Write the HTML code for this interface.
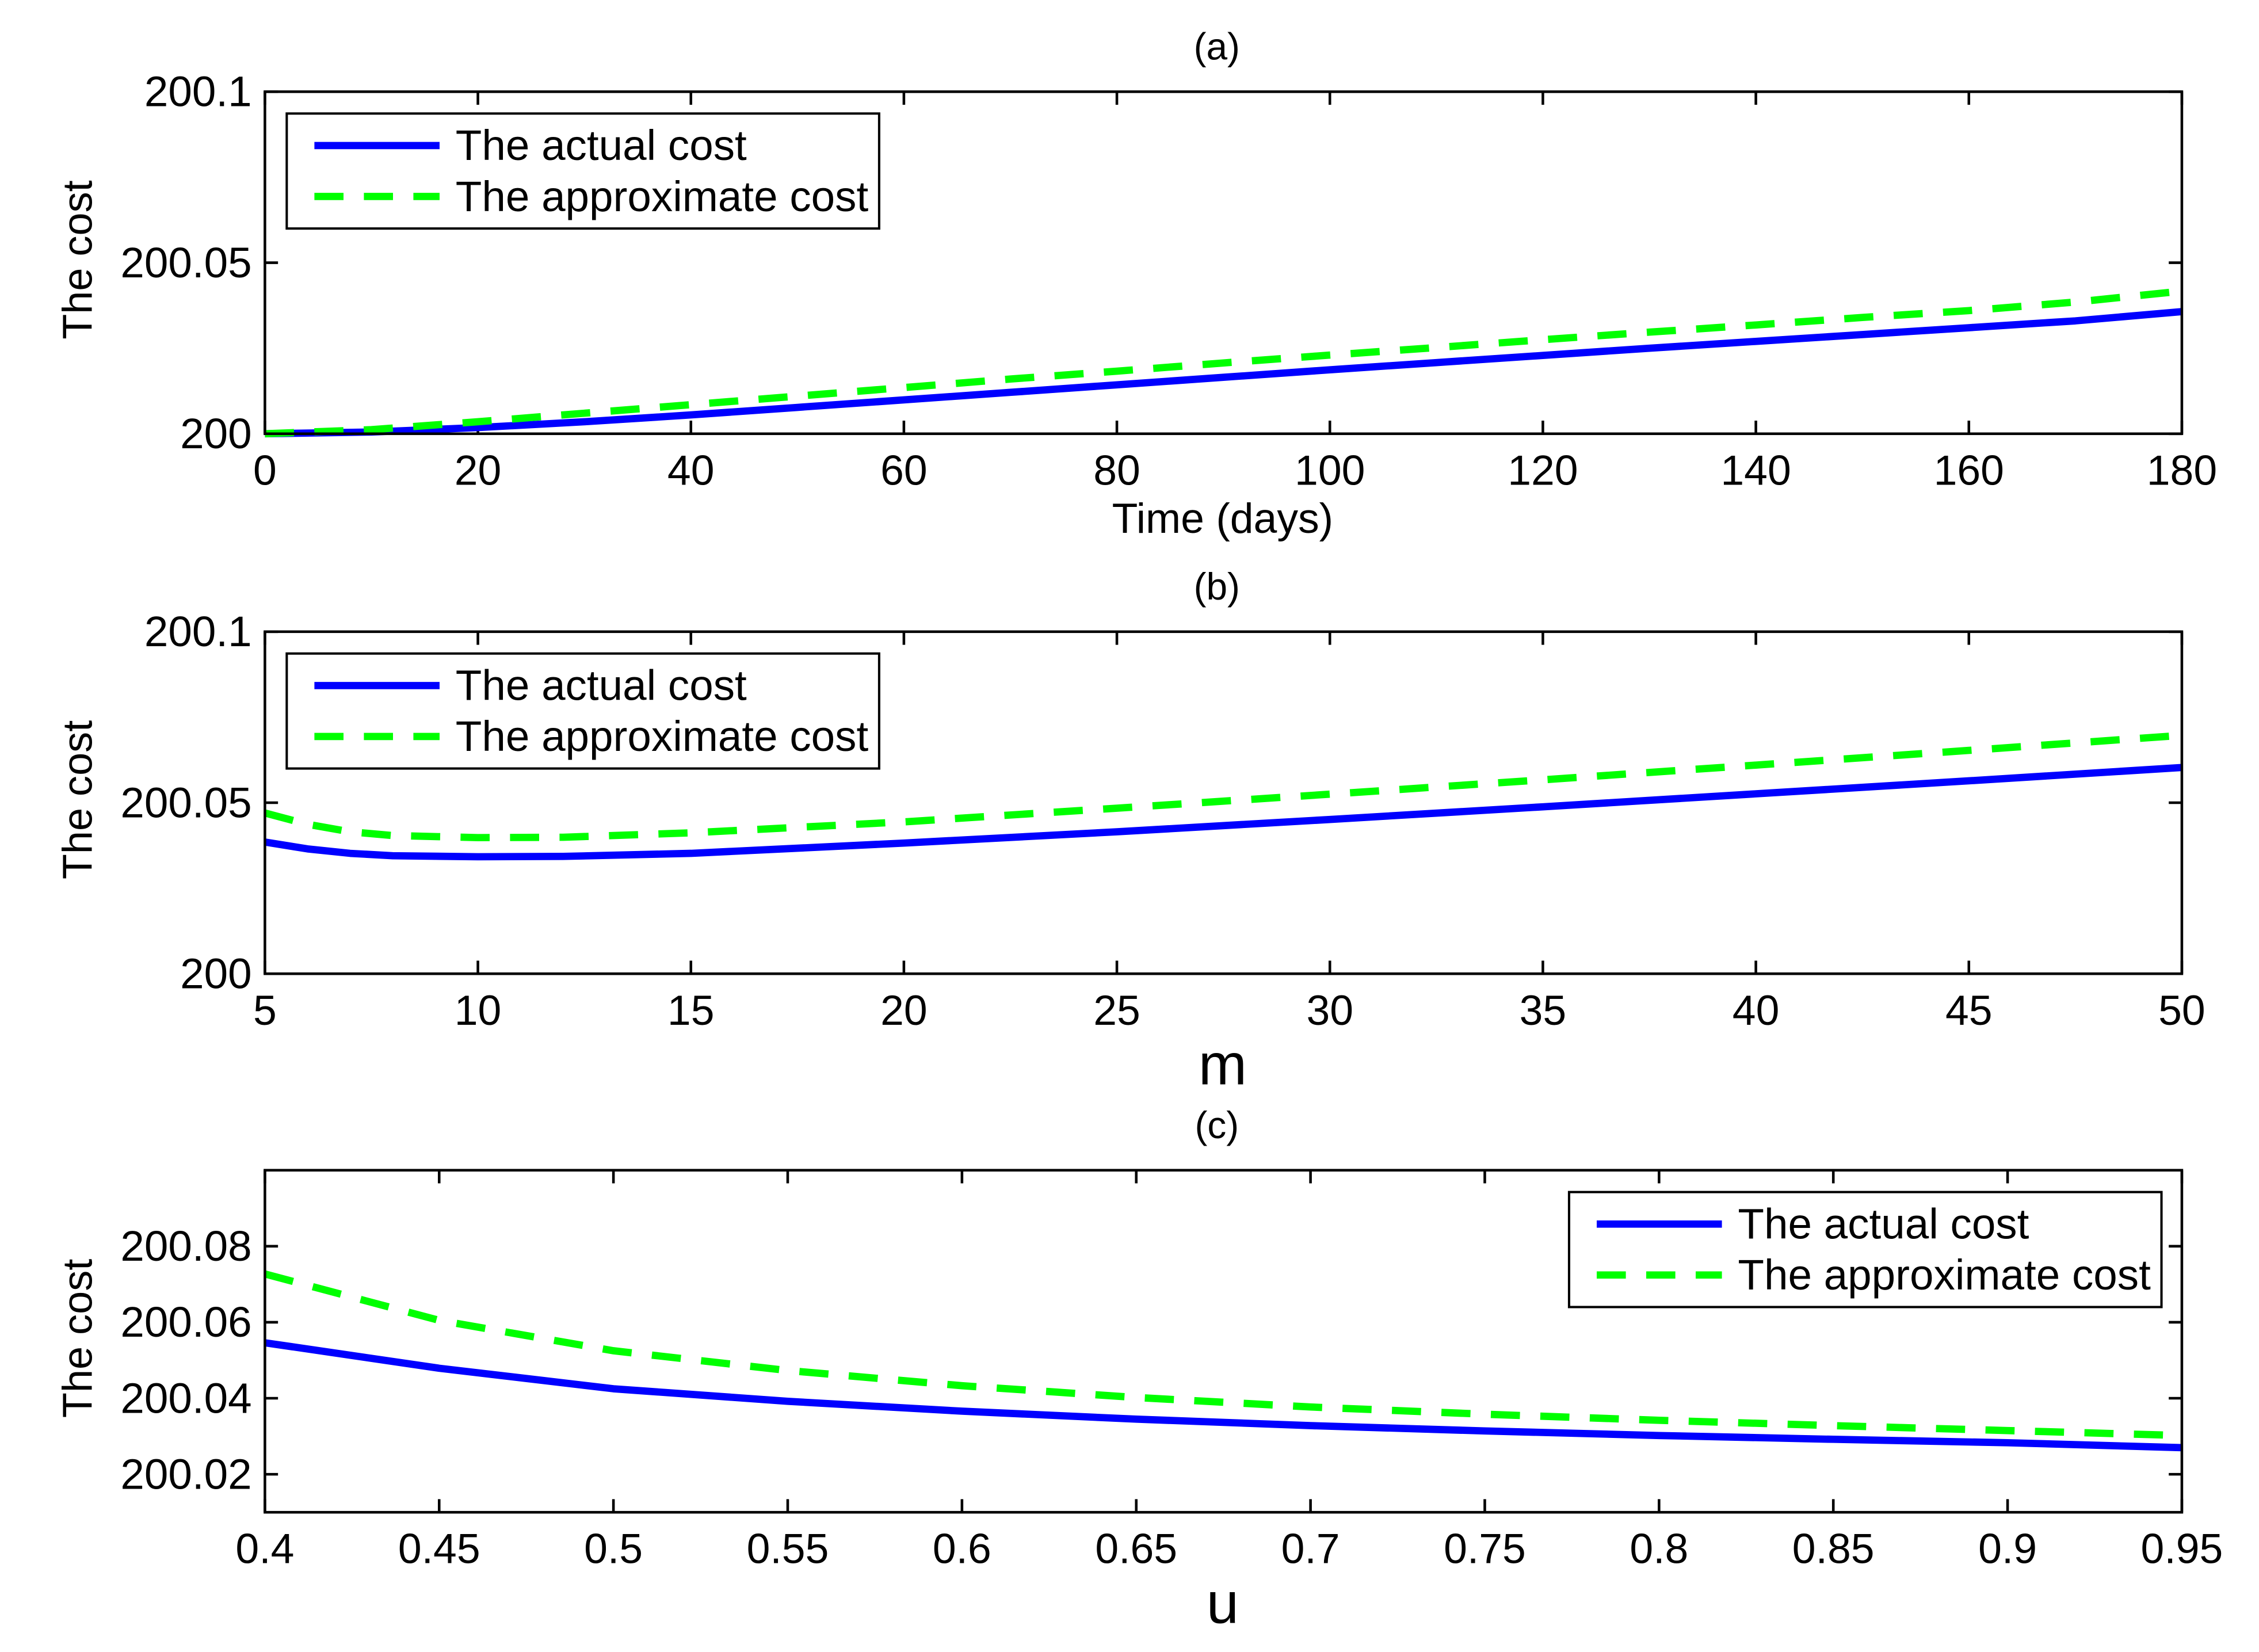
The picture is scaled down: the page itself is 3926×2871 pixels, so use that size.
<!DOCTYPE html>
<html><head><meta charset="utf-8"><style>
html,body{margin:0;padding:0;background:#fff;}
svg{display:block;}
text{font-family:"Liberation Sans",sans-serif;fill:#000;}
</style></head><body>
<svg id="fig" xmlns="http://www.w3.org/2000/svg" width="3926" height="2871" viewBox="0 0 1552 1135" preserveAspectRatio="none"></svg>
<script>
// Panel (a)
const timeDays = [0,10,20,30,40,50,60,70,80,90,100,110,120,130,140,150,160,170,180];
const actualA = [0,0.0005,0.0018,0.0035,0.0055,0.0077,0.0099,0.0121,0.0143,0.0165,0.0187,0.0208,0.0229,0.025,0.027,0.029,0.031,0.033,0.0357];
const approxA = [0,0.0012,0.0035,0.006,0.0085,0.011,0.0135,0.016,0.0183,0.0207,0.023,0.0252,0.0275,0.0297,0.0318,0.034,0.036,0.0385,0.0417];
const xTicksA = [0,20,40,60,80,100,120,140,160,180];
const yTicksA = [0,0.05,0.1];
const yLabelsA = ["200","200.05","200.1"];
// Panel (b)
const mVals = [5,6,7,8,10,12,15,20,25,30,35,40,45,50];
const actualB = [0.0385,0.0365,0.0352,0.0345,0.0342,0.0343,0.0352,0.0382,0.0415,0.0451,0.0488,0.0526,0.0564,0.0603];
const approxB = [0.047,0.0437,0.0415,0.0404,0.0398,0.0399,0.0412,0.0444,0.0484,0.0525,0.0567,0.061,0.0653,0.0697];
const xTicksB = [5,10,15,20,25,30,35,40,45,50];
const yTicksB = [0,0.05,0.1];
const yLabelsB = ["200","200.05","200.1"];
// Panel (c)
const uVals = [0.4,0.45,0.5,0.55,0.6,0.65,0.7,0.75,0.8,0.85,0.9,0.95];
const actualC = [0.0546,0.0479,0.0425,0.0392,0.0366,0.0345,0.0328,0.0314,0.0302,0.0292,0.0283,0.027];
const approxC = [0.0727,0.0605,0.0525,0.0473,0.0433,0.0402,0.0377,0.0358,0.0342,0.0328,0.0315,0.0302];
const xTicksC = [0.4,0.45,0.5,0.55,0.6,0.65,0.7,0.75,0.8,0.85,0.9,0.95];
const xLabelsC = ["0.4","0.45","0.5","0.55","0.6","0.65","0.7","0.75","0.8","0.85","0.9","0.95"];
const yTicksC = [0.02,0.04,0.06,0.08,0.1];
const yLabelsC = ["200.02","200.04","200.06","200.08",""];

const NS="http://www.w3.org/2000/svg";
const svg=document.getElementById('fig');
function mk(tag,attrs,parent){const e=document.createElementNS(NS,tag);for(const k in attrs)e.setAttribute(k,attrs[k]);(parent||svg).appendChild(e);return e;}

function panel(o){
  const g=mk('g',{});
  
  
  const L=182,R=1499,T=o.top,B=o.top+235;
  const sx=v=>L+(v-o.xmin)/(o.xmax-o.xmin)*(R-L);
  const sy=v=>B-(v-o.ymin)/(o.ymax-o.ymin)*(B-T);
  const t=mk('text',{x:836,y:T-22,'font-size':26,'text-anchor':'middle'},g);t.textContent=o.title;
  
  
  o.xt.forEach((v,i)=>{
    const x=sx(v);
    const tk=mk('path',{d:`M${x},${B}V${B-9}M${x},${T}V${T+9}`,stroke:'#000','stroke-width':1.8},g);
    
    
    const tl=mk('text',{x:x,y:B+35,'font-size':29,'text-anchor':'middle'},g);tl.textContent=o.xl?o.xl[i]:String(v);
    
    
  });
  o.yt.forEach((v,i)=>{
    const y=sy(v);
    const tk=mk('path',{d:`M${L},${y}H${L+9}M${R},${y}H${R-9}`,stroke:'#000','stroke-width':1.8},g);
    
    
    const tl=mk('text',{x:L-9,y:y+10,'font-size':29.5,'text-anchor':'end'},g);tl.textContent=o.yl[i];
    
    
  });
  const yl=mk('text',{x:0,y:0,'font-size':28.5,'text-anchor':'middle',transform:`translate(63,${(T+B)/2-2}) rotate(-90)`},g);yl.textContent='The cost';
  
  
  const xl=mk('text',{x:840,y:o.xlabY,'font-size':o.xlabSize,'text-anchor':'middle'},g);xl.textContent=o.xlab;
  
  
  const pa=o.xs.map((v,i)=>`${i?'L':'M'}${sx(v).toFixed(2)},${sy(o.ymin+o.a[i]+o.off).toFixed(2)}`).join('');
  const pb=o.xs.map((v,i)=>`${i?'L':'M'}${sx(v).toFixed(2)},${sy(o.ymin+o.b[i]+o.off).toFixed(2)}`).join('');
  const la=mk('path',{d:pa,fill:'none',stroke:'#0000ff','stroke-width':5,'stroke-linejoin':'round'},g);
  
  
  const lb=mk('path',{d:pb,fill:'none',stroke:'#00ff00','stroke-width':5,'stroke-dasharray':'20,14'},g);
  
  
  const fr=mk('rect',{x:L,y:T,width:R-L,height:B-T,fill:'none',stroke:'#000','stroke-width':1.8},g);
  
  
  const lx=o.legX, ly=T+15;
  const lg=mk('g',{},g);
  
  
  mk('rect',{x:lx,y:ly,width:407,height:79,fill:'#fff',stroke:'#000','stroke-width':1.6},lg);
  mk('path',{d:`M${lx+19},${ly+22}H${lx+105}`,stroke:'#0000ff','stroke-width':5},lg);
  mk('path',{d:`M${lx+19},${ly+57}H${lx+105}`,stroke:'#00ff00','stroke-width':5,'stroke-dasharray':'20,14'},lg);
  const e1=mk('text',{x:lx+116,y:ly+32,'font-size':29.5},lg);e1.textContent='The actual cost';
  
  
  const e2=mk('text',{x:lx+116,y:ly+67,'font-size':29.5},lg);e2.textContent='The approximate cost';
  
  
}
panel({name:'panel-a',title:'(a)',top:63,xmin:0,xmax:180,ymin:0,ymax:0.1,off:0,xs:timeDays,a:actualA,b:approxA,xt:xTicksA,yt:yTicksA,yl:yLabelsA,xlab:'Time (days)',xlabY:366,xlabSize:29,legX:197});
panel({name:'panel-b',title:'(b)',top:434,xmin:5,xmax:50,ymin:0,ymax:0.1,off:0,xs:mVals,a:actualB,b:approxB,xt:xTicksB,yt:yTicksB,yl:yLabelsB,xlab:'m',xlabY:745,xlabSize:40,legX:197});
panel({name:'panel-c',title:'(c)',top:804,xmin:0.4,xmax:0.95,ymin:0.01,ymax:0.1,off:-0.01,xs:uVals,a:actualC,b:approxC,xt:xTicksC,xl:xLabelsC,yt:yTicksC,yl:yLabelsC,xlab:'u',xlabY:1115,xlabSize:40,legX:1078});
</script>
</body></html>
